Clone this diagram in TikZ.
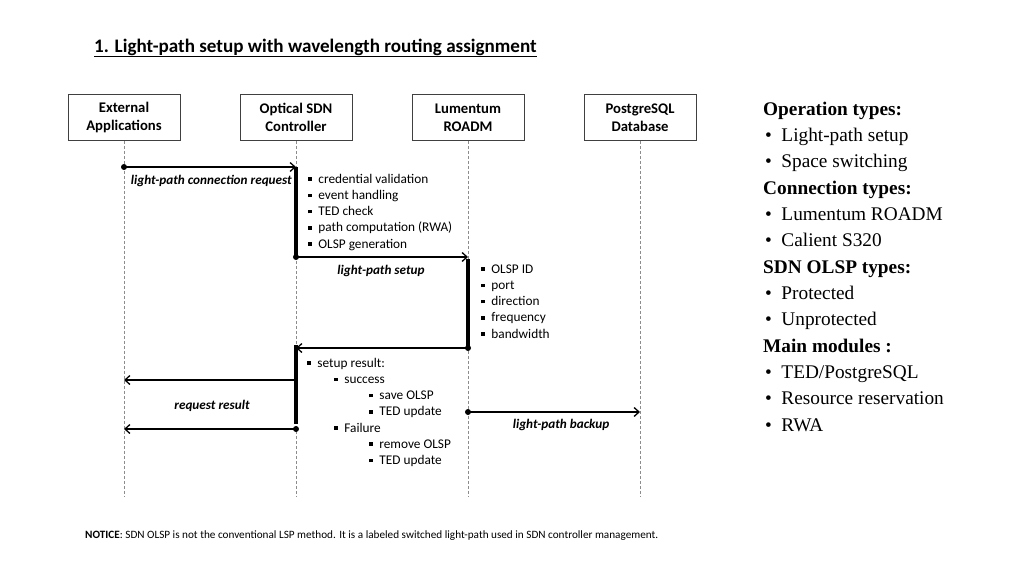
\documentclass[tikz,border=0pt]{standalone}
\usepackage{fontspec}
\setmainfont{Carlito}
\newfontfamily\tnr{Liberation Serif}
\usetikzlibrary{arrows.meta}
\newcommand{\sqb}{\raisebox{0.18em}{\rule{3.6pt}{3.6pt}}\hspace{6.6pt}}
\begin{document}
\begin{tikzpicture}[x=1pt,y=-1pt,
  actor/.style={draw=black!75, line width=0.8pt, minimum width=112pt, minimum height=46pt,
    font=\bfseries\fontsize{14.7}{18.3}\selectfont, align=center, inner sep=0pt},
  life/.style={draw=black!45, line width=0.6pt, dash pattern=on 3pt off 2pt},
  msg/.style={line width=1.3pt, -{Straight Barb[length=5pt,width=9pt,line width=1.3pt]}},
  dotn/.style={circle, fill=black, inner sep=0pt, minimum size=6pt},
  actbar/.style={line width=4.2pt},
  lbl/.style={font=\bfseries\itshape\fontsize{13.2}{15}\selectfont, inner sep=0pt},
  item/.style={font=\fontsize{13.3}{15}\selectfont, anchor=base west, inner sep=0pt},
  rt/.style={font=\tnr\fontsize{19.3}{23}\selectfont, anchor=base west, inner sep=0pt},
  rth/.style={rt, font=\tnr\bfseries\fontsize{19.3}{23}\selectfont},
]
\useasboundingbox (0,0) rectangle (1024,576);

% title
\node[anchor=base west, inner sep=0pt, font=\bfseries\fontsize{19.1}{22}\selectfont] (title) at (94,52)
  {\underline{1. Light-path setup with wavelength routing assignment}};

% actors
\node[actor] (ext) at (124,117.5) {External\\Applications};
\node[actor] (ctl) at (296,117.5) {Optical SDN\\Controller};
\node[actor] (roa) at (468,117.5) {Lumentum\\ROADM};
\node[actor] (pg)  at (640,117.5) {PostgreSQL\\Database};

% lifeline ends
\coordinate (extE) at (124,496);
\coordinate (ctlE) at (296,496);
\coordinate (roaE) at (468,496);
\coordinate (pgE)  at (640,496);
\draw[life] (ext.south) -- (extE);
\draw[life] (ctl.south) -- (ctlE);
\draw[life] (roa.south) -- (roaE);
\draw[life] (pg.south)  -- (pgE);

% message points
\coordinate (a1) at (124,167);
\coordinate (b1) at (296,167);
\coordinate (a2) at (296,257);
\coordinate (b2) at (468,257);
\coordinate (a3) at (468,348);
\coordinate (b3) at (296,348);
\coordinate (a4) at (296,380);
\coordinate (b4) at (124,380);
\coordinate (a5) at (296,429);
\coordinate (b5) at (124,429);
\coordinate (a6) at (468,412);
\coordinate (b6) at (640,412);
\coordinate (c1e) at (296,256);
\coordinate (c2s) at (468,259);
\coordinate (c3s) at (296,345);
\coordinate (c3e) at (296,424);

% activation bars
\draw[actbar] (b1) -- (c1e);
\draw[actbar] (c2s) -- (a3);
\draw[actbar] (c3s) -- (c3e);

% messages
\draw[msg] (a1) -- (b1);
\node[dotn] (d1) at (a1) {};
\node[lbl, anchor=base east] (l1) at (292,184) {light-path connection request};

\draw[msg] (a2) -- (b2);
\node[dotn] (d2) at (a2) {};
\node[lbl, anchor=base] (l2) at (381,274) {light-path setup};

\draw[msg] (a3) -- (b3);
\node[dotn] (d3) at (a3) {};

\draw[msg] (a4) -- (b4);
\draw[msg] (a5) -- (b5);
\node[dotn] (d5) at (a5) {};
\node[lbl, anchor=base] (l4) at (212,409) {request result};

\draw[msg] (a6) -- (b6);
\node[dotn] (d6) at (a6) {};
\node[lbl, anchor=base] (l6) at (561,428) {light-path backup};

% controller items
\node[item] (i11) at (308,183.3) {\sqb credential validation};
\node[item] (i12) at (308,199.5) {\sqb event handling};
\node[item] (i13) at (308,215.7) {\sqb TED check};
\node[item] (i14) at (308,231.9) {\sqb path computation (RWA)};
\node[item] (i15) at (308,248.1) {\sqb OLSP generation};

% ROADM items
\node[item] (i21) at (481,273.3) {\sqb OLSP ID};
\node[item] (i22) at (481,289.5) {\sqb port};
\node[item] (i23) at (481,305.7) {\sqb direction};
\node[item] (i24) at (481,321.9) {\sqb frequency};
\node[item] (i25) at (481,338.1) {\sqb bandwidth};

% result items
\node[item] (i31) at (307,367.3) {\sqb setup result:};
\node[item] (i32) at (334,383.5) {\sqb success};
\node[item] (i33) at (369,399.7) {\sqb save OLSP};
\node[item] (i34) at (369,415.9) {\sqb TED update};
\node[item] (i35) at (334,432.1) {\sqb Failure};
\node[item] (i36) at (369,448.3) {\sqb remove OLSP};
\node[item] (i37) at (369,464.5) {\sqb TED update};

% right-hand text
\node[rth] (r1)  at (763,115)   {Operation types:};
\node[rt]  (r2)  at (765,141.3) {\textbullet\hspace{9.5pt}Light-path setup};
\node[rt]  (r3)  at (765,167.7) {\textbullet\hspace{9.5pt}Space switching};
\node[rth] (r4)  at (763,194)   {Connection types:};
\node[rt]  (r5)  at (765,220.3) {\textbullet\hspace{9.5pt}Lumentum ROADM};
\node[rt]  (r6)  at (765,246.7) {\textbullet\hspace{9.5pt}Calient S320};
\node[rth] (r7)  at (763,273)   {SDN OLSP types:};
\node[rt]  (r8)  at (765,299.3) {\textbullet\hspace{9.5pt}Protected};
\node[rt]  (r9)  at (765,325.7) {\textbullet\hspace{9.5pt}Unprotected};
\node[rth] (r10) at (763,352)   {Main modules :};
\node[rt]  (r11) at (765,378.3) {\textbullet\hspace{9.5pt}TED/PostgreSQL};
\node[rt]  (r12) at (765,404.7) {\textbullet\hspace{9.5pt}Resource reservation};
\node[rt]  (r13) at (765,431)   {\textbullet\hspace{9.5pt}RWA};

% notice
\node[anchor=base west, inner sep=0pt, font=\fontsize{11.2}{13}\selectfont] (notice) at (85,538)
  {\textbf{NOTICE}: SDN OLSP is not the conventional LSP method. It is a labeled switched light-path used in SDN controller management.};
\end{tikzpicture}
\end{document}
